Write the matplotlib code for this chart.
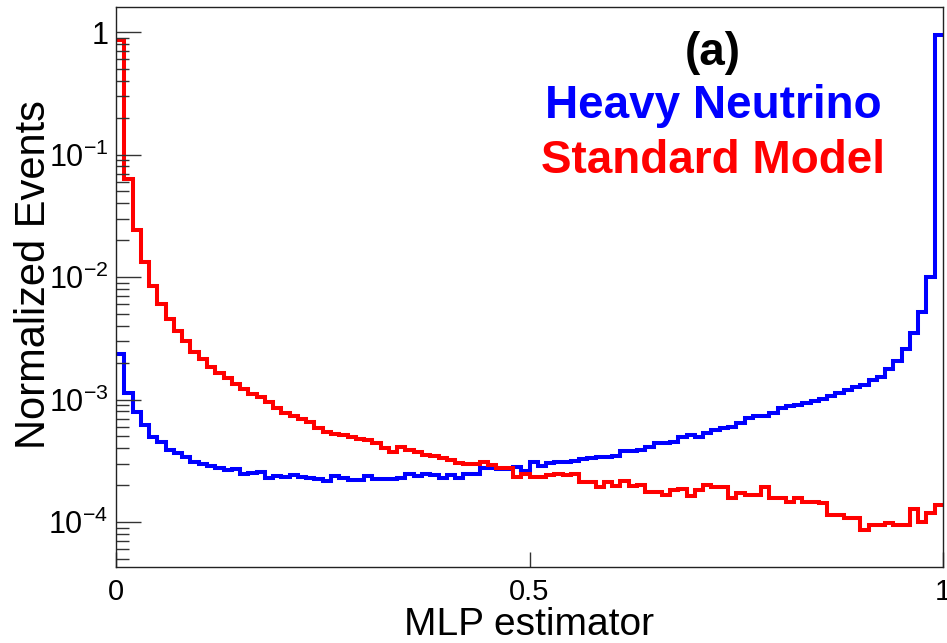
import numpy as np
import matplotlib
matplotlib.use("Agg")
import matplotlib.pyplot as plt
from matplotlib.ticker import FixedLocator, FixedFormatter, LogLocator, NullFormatter, NullLocator

plt.rcParams['font.family'] = ['Liberation Sans', 'DejaVu Sans']
plt.rcParams['mathtext.fontset'] = 'custom'
plt.rcParams['mathtext.rm'] = 'Liberation Sans'
plt.rcParams['mathtext.it'] = 'Liberation Sans:italic'
plt.rcParams['mathtext.bf'] = 'Liberation Sans:bold'

# ---------------- data ----------------
n_bins = 100
x_range = (0.0, 1.0)

heavy_neutrino = [
    0.00235, 0.00113, 0.000794, 0.000619, 0.000497, 0.000452, 0.000387, 0.000363, 0.000337, 0.000310,
    0.000297, 0.000286, 0.000278, 0.000267, 0.000271, 0.000249, 0.000251, 0.000257, 0.000231, 0.000236,
    0.000234, 0.000242, 0.000234, 0.000228, 0.000225, 0.000216, 0.000237, 0.000231, 0.000220, 0.000220,
    0.000237, 0.000223, 0.000223, 0.000223, 0.000231, 0.000249, 0.000237, 0.000246, 0.000244, 0.000231,
    0.000242, 0.000231, 0.000249, 0.000249, 0.000274, 0.000274, 0.000269, 0.000269, 0.000279, 0.000262,
    0.000310, 0.000286, 0.000301, 0.000310, 0.000310, 0.000316, 0.000325, 0.000331, 0.000341, 0.000337,
    0.000345, 0.000382, 0.000382, 0.000387, 0.000411, 0.000439, 0.000443, 0.000452, 0.000497, 0.000513,
    0.000497, 0.000530, 0.000564, 0.000582, 0.000600, 0.000640, 0.000702, 0.000733, 0.000733, 0.000771,
    0.000848, 0.000885, 0.000902, 0.000942, 0.000978, 0.00102, 0.00107, 0.00114, 0.00120, 0.00126,
    0.00131, 0.00144, 0.00153, 0.00177, 0.00207, 0.00257, 0.00348, 0.00521, 0.0101, 0.95,
]

standard_model = [
    0.857, 0.0630, 0.0243, 0.01336, 0.00851, 0.00603, 0.00455, 0.00363, 0.00302, 0.00246,
    0.00214, 0.00184, 0.00166, 0.00149, 0.00134, 0.00121, 0.00111, 0.00105, 0.000963, 0.000853,
    0.000784, 0.000740, 0.000693, 0.000655, 0.000585, 0.000543, 0.000528, 0.000513, 0.000491, 0.000473,
    0.000467, 0.000439, 0.000399, 0.000375, 0.000407, 0.000387, 0.000375, 0.000352, 0.000345, 0.000331,
    0.000321, 0.000305, 0.000297, 0.000297, 0.000310, 0.000292, 0.000274, 0.000274, 0.000234, 0.000249,
    0.000234, 0.000234, 0.000242, 0.000249, 0.000242, 0.000249, 0.000213, 0.000213, 0.000194, 0.000213,
    0.000197, 0.000217, 0.000197, 0.000200, 0.000177, 0.000177, 0.000166, 0.000182, 0.000188, 0.000163,
    0.000182, 0.000200, 0.000194, 0.000194, 0.000156, 0.000173, 0.000166, 0.000166, 0.000194, 0.000156,
    0.000156, 0.000146, 0.000156, 0.000146, 0.000146, 0.000143, 0.000114, 0.000114, 0.000109, 0.000109,
    0.0000859, 0.0000944, 0.0000944, 0.0000985, 0.0000944, 0.0000944, 0.000129, 0.000100, 0.000118, 0.000137,
]

x_ticks = [0.0, 0.5, 1.0]
x_tick_labels = ["0", "0.5", "1"]
y_ticks = [1e-4, 1e-3, 1e-2, 1e-1, 1.0]
y_tick_labels = [r"$\mathregular{10^{-4}}$", r"$\mathregular{10^{-3}}$",
                 r"$\mathregular{10^{-2}}$", r"$\mathregular{10^{-1}}$", "1"]
y_limits = (4.3e-5, 1.6)

# ---------------- figure ----------------
W, H = 947, 643
fig = plt.figure(figsize=(W / 100, H / 100), dpi=100)
ax = fig.add_axes([116 / W, 1 - 567 / H, (943 - 116) / W, (567 - 7) / H])

edges = np.linspace(x_range[0], x_range[1], n_bins + 1)
ax.stairs(heavy_neutrino, edges, baseline=None, color="#0000ff", lw=2.9)
ax.stairs(standard_model, edges, baseline=None, color="#ff0000", lw=2.9)

ax.set_xlim(*x_range)
ax.set_yscale("log")
ax.set_ylim(*y_limits)

ax.xaxis.set_major_locator(FixedLocator(x_ticks))
ax.xaxis.set_major_formatter(FixedFormatter(x_tick_labels))
ax.xaxis.set_minor_locator(NullLocator())
ax.yaxis.set_major_locator(FixedLocator(y_ticks))
ax.yaxis.set_major_formatter(FixedFormatter(y_tick_labels))
ax.yaxis.set_minor_locator(LogLocator(base=10, subs=np.arange(2, 10)))
ax.yaxis.set_minor_formatter(NullFormatter())

ax.tick_params(axis="x", which="major", direction="in", length=11, width=1.0,
               labelsize=21, pad=8, top=False, color="#333333")
ax.tick_params(axis="y", which="major", direction="in", length=18, width=1.0,
               labelsize=22, pad=5.5, right=False, color="#333333")
ax.tick_params(axis="y", which="minor", direction="in", length=9.5, width=1.0,
               right=False, color="#333333")

for sp in ax.spines.values():
    sp.set_linewidth(1.0)
    sp.set_color("#222222")

fig.text(45 / W, 1 - 275 / H, "Normalized Events", rotation=90, rotation_mode="anchor",
         ha="center", va="baseline", fontsize=30)
fig.text(529 / W, 1 - 635 / H, "MLP estimator", ha="center", va="baseline", fontsize=28)

fig.text(713 / W, 1 - 65 / H, "(a)", ha="center", va="baseline", fontsize=33,
         fontweight="bold", color="black")
fig.text(713 / W, 1 - 118 / H, "Heavy Neutrino", ha="center", va="baseline", fontsize=33,
         fontweight="bold", color="#0000ff")
fig.text(713 / W, 1 - 173 / H, "Standard Model", ha="center", va="baseline", fontsize=33,
         fontweight="bold", color="#ff0000")

fig.savefig("out.png", dpi=100)
